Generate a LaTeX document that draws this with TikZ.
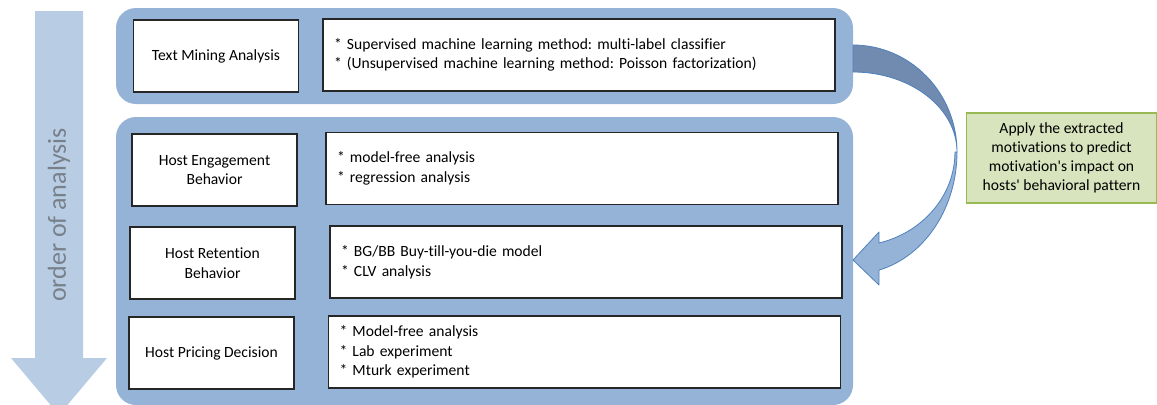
\documentclass[tikz,border=0pt]{standalone}
\usepackage{fontspec}
\setmainfont{Carlito}[Ligatures={CommonOff,TeXOff}]
\usepackage{tikz}
\usetikzlibrary{positioning,calc}
\definecolor{PanelBlue}{RGB}{149,179,215}
\definecolor{OrderBlue}{RGB}{184,205,228}
\definecolor{BendDark}{RGB}{112,139,175}
\definecolor{BendEdge}{RGB}{79,129,189}
\definecolor{NoteFill}{RGB}{215,228,189}
\definecolor{NoteEdge}{RGB}{152,185,84}
\definecolor{OrderText}{RGB}{120,128,138}
\frenchspacing

\begin{document}
\begin{tikzpicture}[x=0.75pt,y=-0.75pt,
        panel/.style={rectangle,rounded corners=15pt,fill=PanelBlue,
                      minimum width=552.75pt,inner sep=0pt},
        lbl/.style={rectangle,draw=black!85,fill=white,line width=0.9pt,
                    minimum width=123.75pt,minimum height=54pt,align=center,
                    font=\fontsize{11.7}{14.6}\selectfont},
        det/.style={rectangle,draw=black!85,fill=white,line width=0.9pt,
                    text width=367.5pt,inner xsep=8.25pt,minimum height=54pt,
                    align=left,font=\fontsize{11.7}{14.6}\selectfont},
        note/.style={rectangle,draw=NoteEdge,fill=NoteFill,line width=0.8pt,
                     minimum width=142.5pt,minimum height=67.5pt,align=center,
                     font=\fontsize{11.7}{14.3}\selectfont},
        bendarrow/.style={draw=BendEdge,line width=0.6pt,line join=round}
      ]
        \useasboundingbox (0,0) rectangle (1157,404);
        \fill[OrderBlue] (35,11) -- (83,11) -- (83,358) -- (107,358)
          -- (59,415) -- (11,358) -- (35,358) -- cycle;
        \node[rotate=90,text=OrderText,font=\fontsize{19.5}{22}\selectfont]
          (ord) at (59,215) {order of analysis};
        \node[panel,minimum height=72pt]  (top) at (484.5,56) {};
        \node[panel,minimum height=216pt] (bot) at (484.5,261) {};
        \node[lbl] (tm) at (216,56) {Text Mining Analysis};
        \node[det] (tmd) at (579,55) {* Supervised machine learning method: multi-label classifier\\{}
          * (Unsupervised machine learning method: Poisson factorization)};
        \node[lbl] (he) at (214.5,170) {Host Engagement\\Behavior};
        \node[det] (hed) at (582,168.5) {* model-free analysis\\{}* regression analysis};
        \node[lbl] (hr) at (212.5,263) {Host Retention\\Behavior};
        \node[det] (hrd) at (586,262) {* BG/BB Buy-till-you-die model\\{}* CLV analysis};
        \node[lbl] (hp) at (211.5,353) {Host Pricing Decision};
        \node[det] (hpd) at (584.5,352) {* Model-free analysis\\{}* Lab experiment\\{}* Mturk experiment};
        \node[note] (apply) at (1061.5,158) {Apply the extracted\\motivations to predict\\
          motivation's impact on\\hosts' behavioral pattern};
        \filldraw[bendarrow,fill=BendDark] (853,45)
          arc[start angle=-90,end angle=0,x radius=104,y radius=107]
          arc[start angle=0,end angle=-90,x radius=104,y radius=80] -- cycle;
        \filldraw[bendarrow,fill=PanelBlue] (957,152)
          arc[start angle=0,end angle=75.5,x radius=104,y radius=122]
          -- (879,285) -- (853,260) -- (879,232) -- (879,243)
          arc[start angle=75.2,end angle=0,x radius=102,y radius=94] -- cycle;
      \end{tikzpicture}
\end{document}
